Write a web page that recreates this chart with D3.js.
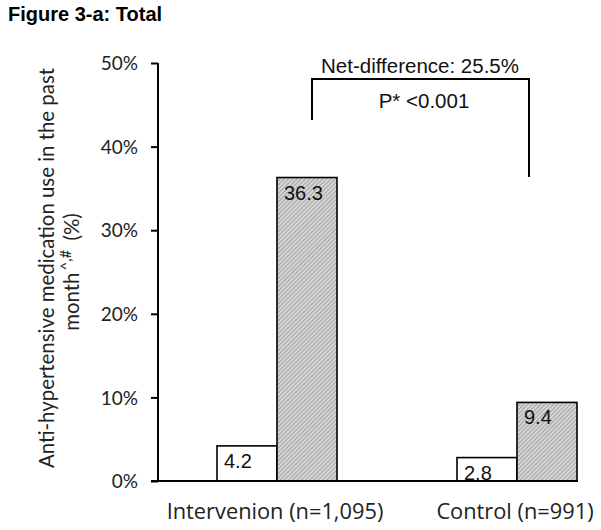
<!DOCTYPE html>
<html>
<head>
<meta charset="utf-8">
<script src="https://cdn.jsdelivr.net/npm/d3@7"></script>
<style>
  body { margin: 0; background: #fff; }
  svg { display: block; }
</style>
</head>
<body>
<svg id="chart" width="601" height="530"></svg>
<script>
// ---- data ----
const categories = ["Intervenion (n=1,095)", "Control (n=991)"];
const series = ["Before", "After"];
const beforeValues = [4.2, 2.8];
const afterValues = [36.3, 9.4];
const yTicks = [0, 10, 20, 30, 40, 50];
const yTickLabels = ["0%", "10%", "20%", "30%", "40%", "50%"];
const titleText = "Figure 3-a: Total";
const yTitleLine1 = "Anti-hypertensive medication use in the past";
const yTitleLine2 = ["month", "^,#", " (%)"];
const netDiffText = "Net-difference: 25.5%";
const pText = "P* <0.001";

const svg = d3.select("#chart");

// pattern for hatched bars
const defs = svg.append("defs");
const pat = defs.append("pattern")
  .attr("id", "hatch")
  .attr("patternUnits", "userSpaceOnUse")
  .attr("width", 3).attr("height", 3)
  .attr("patternTransform", "rotate(45)");
pat.append("rect").attr("width", 3).attr("height", 3).attr("fill", "#d6d6d6");
pat.append("line").attr("x1", 0).attr("y1", 0).attr("x2", 0).attr("y2", 3)
  .attr("stroke", "#7a7a7a").attr("stroke-width", 1.1);

const y = d3.scaleLinear().domain([0, 50]).range([481, 63]);
const x0 = d3.scaleBand().domain(categories).range([157, 637]).paddingInner(0).paddingOuter(0);
const x1 = d3.scaleBand().domain(series).range([60, 180]);

const rows = categories.map((c, i) => ({cat: c, vals: [
  {s: series[0], v: beforeValues[i]},
  {s: series[1], v: afterValues[i]}
]}));

// title
svg.append("text").attr("x", 8).attr("y", 21)
  .attr("font-family", "Liberation Sans, Arial, sans-serif")
  .attr("font-weight", "bold").attr("font-size", 20)
  .attr("fill", "#000").text(titleText);

// y axis
const yAxis = d3.axisLeft(y).tickValues(yTicks).tickFormat((d, i) => yTickLabels[i])
  .tickSize(7).tickPadding(13);
const yg = svg.append("g").attr("transform", "translate(158,0)").call(yAxis);
yg.select(".domain").attr("stroke", "#000").attr("stroke-width", 2)
  .attr("d", `M0,${y(50)}V${y(0)}`);
yg.selectAll(".tick line").attr("stroke", "#000").attr("stroke-width", 2);
yg.selectAll(".tick text").attr("font-family", "Lato, 'Open Sans', sans-serif")
  .attr("font-size", 19).attr("fill", "#222").attr("dy", "0.35em");

// bars
const groups = svg.append("g").selectAll("g").data(rows).join("g")
  .attr("transform", d => `translate(${x0(d.cat)},0)`);
groups.selectAll("rect").data(d => d.vals).join("rect")
  .attr("x", d => x1(d.s))
  .attr("y", d => y(d.v))
  .attr("width", x1.bandwidth())
  .attr("height", d => y(0) - y(d.v))
  .attr("fill", d => d.s === "After" ? "url(#hatch)" : "#fff")
  .attr("stroke", "#000").attr("stroke-width", 1.6);
groups.selectAll("text.val").data(d => d.vals).join("text")
  .attr("class", "val")
  .attr("x", d => x1(d.s) + 7)
  .attr("y", d => y(d.v) + 22)
  .attr("font-family", "Liberation Sans, Arial, sans-serif")
  .attr("font-size", 20).attr("fill", "#111")
  .text(d => d.v.toFixed(1));

// x axis baseline
const lastCat = categories[categories.length - 1];
svg.append("line")
  .attr("x1", 151).attr("x2", x0(lastCat) + x1("After") + x1.bandwidth() + 1)
  .attr("y1", y(0)).attr("y2", y(0))
  .attr("stroke", "#000").attr("stroke-width", 2);

// x labels
svg.append("g").selectAll("text").data(categories).join("text")
  .attr("x", d => x0(d) + x0.bandwidth() / 2 - 2)
  .attr("y", 519)
  .attr("text-anchor", "middle")
  .attr("font-family", "'Open Sans', sans-serif")
  .attr("font-size", 21.8).attr("fill", "#222")
  .text(d => d);

// y title
const yt = svg.append("g");
yt.append("text")
  .attr("transform", "translate(54,268) rotate(-90)")
  .attr("text-anchor", "middle")
  .attr("font-family", "Lato, 'Open Sans', sans-serif")
  .attr("font-size", 20.4).attr("fill", "#222")
  .text(yTitleLine1);
const t2 = yt.append("text")
  .attr("transform", "translate(79,272) rotate(-90)")
  .attr("text-anchor", "middle")
  .attr("font-family", "Lato, 'Open Sans', sans-serif")
  .attr("font-size", 20.4).attr("fill", "#222")
  .style("white-space", "pre");
t2.append("tspan").text(yTitleLine2[0]);
t2.append("tspan").attr("dx", 2).attr("dy", -8).attr("font-size", 15).text(yTitleLine2[1]);
t2.append("tspan").attr("dx", 4).attr("dy", 8).text(yTitleLine2[2]);

// bracket annotation
const leftX = 312, rightX = 529;
svg.append("path")
  .attr("d", `M${leftX},120V79H${rightX}V177`)
  .attr("fill", "none").attr("stroke", "#000").attr("stroke-width", 2);
svg.append("text").attr("x", 420).attr("y", 73).attr("text-anchor", "middle")
  .attr("font-family", "Liberation Sans, Arial, sans-serif")
  .attr("font-size", 20.5).attr("fill", "#111").text(netDiffText);
svg.append("text").attr("x", 424).attr("y", 108).attr("text-anchor", "middle")
  .attr("font-family", "Liberation Sans, Arial, sans-serif")
  .attr("font-size", 20.5).attr("fill", "#111").text(pText);
</script>
</body>
</html>
